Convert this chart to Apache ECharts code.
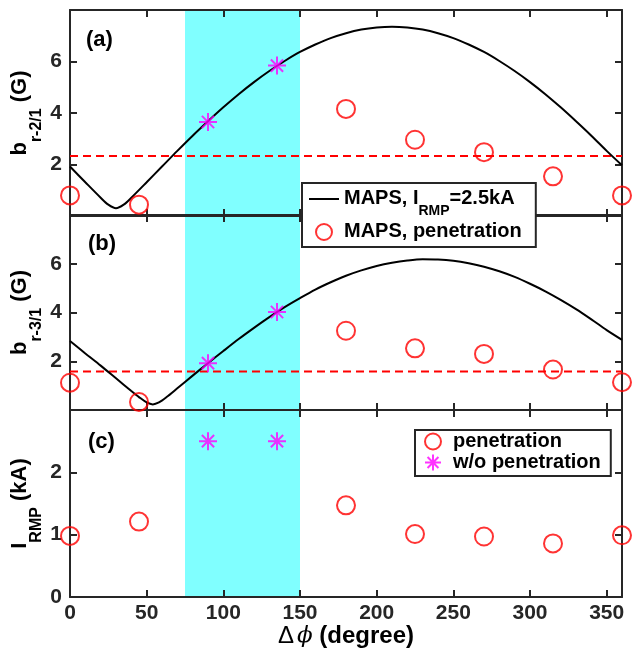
<!DOCTYPE html>
<html>
<head>
<meta charset="utf-8">
<script src="https://cdn.jsdelivr.net/npm/echarts@6/dist/echarts.min.js"></script>
<style>html,body{margin:0;padding:0;background:#fff;}#c{width:632px;height:651px;}</style>
</head>
<body>
<div id="c"></div>
<script>
// ---- data ----
const phiCurveA = [0,10,20,25,30,35,40,50,60,70,80,90,100,110,120,130,140,150,160,170,180,190,200,210,220,230,240,250,260,270,280,290,300,310,320,330,340,350,360];
const bCurveA   = [1.92,1.31,0.71,0.44,0.30,0.44,0.71,1.31,1.92,2.53,3.12,3.68,4.22,4.73,5.20,5.63,6.02,6.37,6.66,6.91,7.10,7.24,7.32,7.35,7.32,7.24,7.10,6.91,6.66,6.37,6.02,5.63,5.20,4.73,4.22,3.68,3.12,2.53,1.97];
const phiCurveB = [0,10,20,30,40,45,50,54,58,63,70,80,90,100,110,120,130,140,150,160,170,180,190,200,210,220,230,240,250,260,270,280,290,300,310,320,330,340,350,360];
const bCurveB   = [2.83,2.32,1.82,1.30,0.78,0.53,0.31,0.23,0.31,0.53,0.89,1.41,1.92,2.42,2.91,3.37,3.81,4.22,4.59,4.94,5.24,5.51,5.73,5.91,6.04,6.13,6.18,6.17,6.12,6.02,5.88,5.69,5.46,5.18,4.87,4.52,4.14,3.72,3.28,2.88];
const phiPen = [0,45,180,225,270,315,360];
const penA   = [0.80,0.44,4.16,2.96,2.48,1.54,0.80];
const penB   = [1.12,0.33,3.25,2.53,2.30,1.66,1.14];
const penC   = [0.98,1.21,1.47,1.01,0.97,0.86,0.99];
const phiStar = [90,135];
const starA   = [3.65,5.84];
const starB   = [1.92,4.02];
const starC   = [2.5,2.5];
const thresholdA = 2.33;
const thresholdB = 1.58;
const bandRange = [75,150];
const xRange = [0,360];
const xTickStep = 50;
const yRangeAB = [0,8];
const yTickStepAB = 2;
const yRangeC = [0,3];
const yTickStepC = 1;
const panelLabels = ['(a)','(b)','(c)'];
const legendA = ['MAPS, IRMP=2.5kA','MAPS, penetration'];
const legendC = ['penetration','w/o penetration'];

// ---- styling ----
const FONT = '"Liberation Sans", Arial, Helvetica, sans-serif';
const AX = '#262626';
const STAR = 'path://M5,0L5,10M0,5L10,5M1.6,1.6L8.4,8.4M1.6,8.4L8.4,1.6';
const zip = (xs, ys) => xs.map((x, i) => [x, ys[i]]);

const grids = [
  {left:70, top:10, width:552, height:206, outerBoundsMode:'none', containLabel:false},
  {left:70, top:215, width:552, height:195, outerBoundsMode:'none', containLabel:false},
  {left:70, top:410, width:552, height:187, outerBoundsMode:'none', containLabel:false}
];

function xAxis(gi, pos, labels) {
  return {
    gridIndex: gi, type:'value', position: pos, min: xRange[0], max: xRange[1], interval: xTickStep, z: 1,
    axisLine: {show:true, onZero:false, lineStyle:{color:AX, width:2}},
    axisTick: {show:true, inside:true, length:7, lineStyle:{color:AX, width:2}},
    splitLine: {show:false},
    axisLabel: {show: labels, margin: 6, fontFamily: FONT, fontSize: 21, fontWeight:'bold', color: AX,
      formatter: v => (v <= 350 ? String(v) : '')},
    name: labels ? '{g|\u0394}{p|\u03d5}{b| (degree)}' : '',
    nameLocation: 'middle', nameGap: 27, nameMoveOverlap: false,
    nameTextStyle: {rich: {
      g: {fontFamily: FONT, fontSize: 24, color:'#000'},
      p: {fontFamily: '"DejaVu Serif", serif', fontStyle:'italic', fontSize: 23, color:'#000', padding:[0,0,0,3]},
      b: {fontFamily: FONT, fontSize: 24, fontWeight:'bold', color:'#000'}
    }}
  };
}
const yRich = {
  m: {fontFamily: FONT, fontSize: 22, fontWeight:'bold', color:'#000', lineHeight: 24, verticalAlign:'top'},
  s: {fontFamily: FONT, fontSize: 16, fontWeight:'bold', color:'#000', lineHeight: 16, padding:[20,0,0,0], verticalAlign:'top'}
};
function yAxis(gi, pos, range, step, name) {
  const left = pos === 'left';
  return {
    gridIndex: gi, type:'value', position: pos, min: range[0], max: range[1], interval: step, z: 1,
    axisLine: {show:true, onZero:false, lineStyle:{color:AX, width:2}},
    axisTick: {show:true, inside:true, length:7, lineStyle:{color:AX, width:2}},
    splitLine: {show:false},
    axisLabel: {show: left, margin: 8, fontFamily: FONT, fontSize: 21, fontWeight:'bold', color: AX,
      formatter: v => ((range[1] === 8 ? (v > 0 && v < 8) : v < range[1]) ? String(v) : '')},
    name: left ? name : '', nameLocation:'middle', nameRotate: 90, nameGap: 37, nameMoveOverlap: false,
    nameTextStyle: {rich: yRich}
  };
}

const xAxes = [], yAxes = [];
const yNames = ['{m|b}{s|r-2/1}{m| (G)}', '{m|b}{s|r-3/1}{m| (G)}', '{m|I}{s|RMP}{m| (kA)}'];
for (let g = 0; g < 3; g++) {
  xAxes.push(xAxis(g, 'bottom', g === 2));
  xAxes.push(xAxis(g, 'top', false));
  const r = g < 2 ? yRangeAB : yRangeC, st = g < 2 ? yTickStepAB : yTickStepC;
  yAxes.push(yAxis(g, 'left', r, st, yNames[g]));
  yAxes.push(yAxis(g, 'right', r, st, ''));
}

const circleStyle = {color:'rgba(0,0,0,0)', borderColor:'#ff0000', borderWidth:2};
const starStyle = {color:'rgba(0,0,0,0)', borderColor:'#ff00ff', borderWidth:2};

function band(g) {
  return {type:'line', name:'band'+g, xAxisIndex: g*2, yAxisIndex: g*2, data: [], z: 0, silent: true,
    markArea: {silent:true, itemStyle:{color:'#80ffff', opacity:1}, data:[[{xAxis: bandRange[0]}, {xAxis: bandRange[1]}]]}};
}
function curve(g, name, xs, ys) {
  return {type:'line', name, xAxisIndex:g*2, yAxisIndex:g*2, data: zip(xs, ys), symbol:'none', smooth:0.3, z:2,
    lineStyle:{color:'#000', width:2}, itemStyle:{color:'#000'}};
}
function threshold(g, name, v) {
  return {type:'line', name, xAxisIndex:g*2, yAxisIndex:g*2, data: [[xRange[0], v],[xRange[1], v]], symbol:'none', z:2,
    lineStyle:{color:'#ff0000', width:2, type:[8,5]}, itemStyle:{color:'#ff0000'}};
}
function circles(g, name, xs, ys) {
  return {type:'scatter', name, xAxisIndex:g*2, yAxisIndex:g*2, data: zip(xs, ys), symbol:'circle', symbolSize:18, clip:false, z:3,
    itemStyle: circleStyle};
}
function stars(g, name, xs, ys) {
  return {type:'scatter', name, xAxisIndex:g*2, yAxisIndex:g*2, data: zip(xs, ys), symbol: STAR, symbolSize:18, symbolKeepAspect:true, clip:false, z:3,
    itemStyle: starStyle};
}

const series = [
  band(0), band(1), band(2),
  threshold(0, 'thrA', thresholdA), threshold(1, 'thrB', thresholdB),
  curve(0, legendA[0], phiCurveA, bCurveA), curve(1, 'curveB', phiCurveB, bCurveB),
  circles(0, legendA[1], phiPen, penA), circles(1, 'penB', phiPen, penB), circles(2, legendC[0], phiPen, penC),
  stars(0, 'starA', phiStar, starA), stars(1, 'starB', phiStar, starB), stars(2, legendC[1], phiStar, starC)
];

const legRich = {
  m: {fontFamily: FONT, fontSize: 20, fontWeight:'bold', color:'#000', lineHeight: 22, verticalAlign:'top'},
  s: {fontFamily: FONT, fontSize: 14, fontWeight:'bold', color:'#000', lineHeight: 14, padding:[16,0,0,0], verticalAlign:'top'}
};

const option = {
  animation: false,
  backgroundColor: '#fff',
  grid: grids,
  xAxis: xAxes,
  yAxis: yAxes,
  series,
  legend: [
    {
      orient:'vertical', left: 302, top: 183, z: 20,
      padding: [5, 14, 6, 6], itemGap: 3, itemWidth: 30, itemHeight: 16,
      backgroundColor:'#fff', borderColor: AX, borderWidth: 2, borderRadius: 0,
      selectedMode: false,
      data: [
        {name: legendA[0], itemStyle: {color:'rgba(0,0,0,0)', borderColor:'rgba(0,0,0,0)', borderWidth:0}, lineStyle: {color:'#000', width:2}},
        {name: legendA[1], icon:'circle', itemStyle: circleStyle}
      ],
      formatter: n => n === legendA[0] ? '{m|MAPS, I}{s|RMP}{m|=2.5kA}' : '{m|' + n + '}',
      textStyle: {rich: legRich}
    },
    {
      orient:'vertical', left: 415, top: 430, z: 20,
      padding: [1, 10, 3, 9], itemGap: 0, itemWidth: 30, itemHeight: 16,
      backgroundColor:'#fff', borderColor: AX, borderWidth: 2, borderRadius: 0,
      selectedMode: false,
      data: [
        {name: legendC[0], icon:'circle', itemStyle: circleStyle},
        {name: legendC[1], icon: STAR, itemStyle: starStyle}
      ],
      textStyle: {fontFamily: FONT, fontSize: 20, fontWeight:'bold', color:'#000', lineHeight: 21}
    }
  ],
  graphic: [
    {type:'text', x: 86, y: 39.5, z: 30, style:{text: panelLabels[0], font:'bold 22px ' + FONT, fill:'#000', verticalAlign:'middle'}},
    {type:'text', x: 88, y: 244, z: 30, style:{text: panelLabels[1], font:'bold 22px ' + FONT, fill:'#000', verticalAlign:'middle'}},
    {type:'text', x: 88, y: 442, z: 30, style:{text: panelLabels[2], font:'bold 22px ' + FONT, fill:'#000', verticalAlign:'middle'}}
  ]
};

const chart = echarts.init(document.getElementById('c'), null, {renderer:'canvas'});
chart.setOption(option);
</script>
</body>
</html>
